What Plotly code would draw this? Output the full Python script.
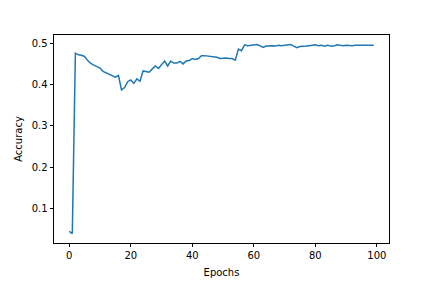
import plotly.graph_objects as go

epochs = list(range(100))
accuracy = [
    0.045, 0.040, 0.476, 0.472, 0.471, 0.468, 0.458, 0.451, 0.447, 0.444,
    0.440, 0.432, 0.428, 0.425, 0.421, 0.418, 0.422, 0.387, 0.393, 0.407,
    0.411, 0.403, 0.414, 0.408, 0.433, 0.431, 0.430, 0.438, 0.445, 0.439,
    0.448, 0.457, 0.445, 0.457, 0.452, 0.452, 0.456, 0.450, 0.457, 0.458,
    0.463, 0.461, 0.463, 0.470, 0.470, 0.469, 0.468, 0.467, 0.466, 0.463,
    0.464, 0.464, 0.463, 0.463, 0.459, 0.486, 0.482, 0.496, 0.494, 0.495,
    0.496, 0.497, 0.494, 0.490, 0.493, 0.494, 0.494, 0.493, 0.495, 0.494,
    0.495, 0.496, 0.497, 0.493, 0.489, 0.492, 0.492, 0.493, 0.494, 0.495,
    0.496, 0.494, 0.495, 0.493, 0.495, 0.493, 0.493, 0.496, 0.495, 0.494,
    0.495, 0.494, 0.494, 0.495, 0.495, 0.496, 0.496, 0.496, 0.496, 0.495,
]
x_ticks = [0, 20, 40, 60, 80, 100]
y_ticks = [0.1, 0.2, 0.3, 0.4, 0.5]

fig = go.Figure(go.Scatter(x=epochs, y=accuracy, mode="lines",
                           line=dict(color="#1f77b4", width=1.5)))

xr = max(epochs) - min(epochs)
yr = max(accuracy) - min(accuracy)
axis_common = dict(showline=True, mirror=True, linecolor="black", linewidth=0.8,
                   ticks="outside", ticklen=3.5, tickwidth=0.8, tickcolor="black",
                   showgrid=False, zeroline=False,
                   tickfont=dict(family="DejaVu Sans", size=10, color="black"))
fig.update_layout(
    width=432, height=288,
    margin=dict(l=54, r=43, t=35, b=36),
    paper_bgcolor="white", plot_bgcolor="white",
    showlegend=False,
    xaxis=dict(range=[min(epochs) - 0.05 * xr, max(epochs) + 0.05 * xr],
               tickvals=x_ticks,
               title=dict(text="Epochs", font=dict(family="DejaVu Sans", size=10, color="black"), standoff=8),
               **axis_common),
    yaxis=dict(range=[min(accuracy) - 0.05 * yr, max(accuracy) + 0.05 * yr],
               tickvals=y_ticks, tickformat=".1f",
               title=dict(text="Accuracy", font=dict(family="DejaVu Sans", size=10, color="black"), standoff=7),
               **axis_common),
)
fig.write_html("out.html")
